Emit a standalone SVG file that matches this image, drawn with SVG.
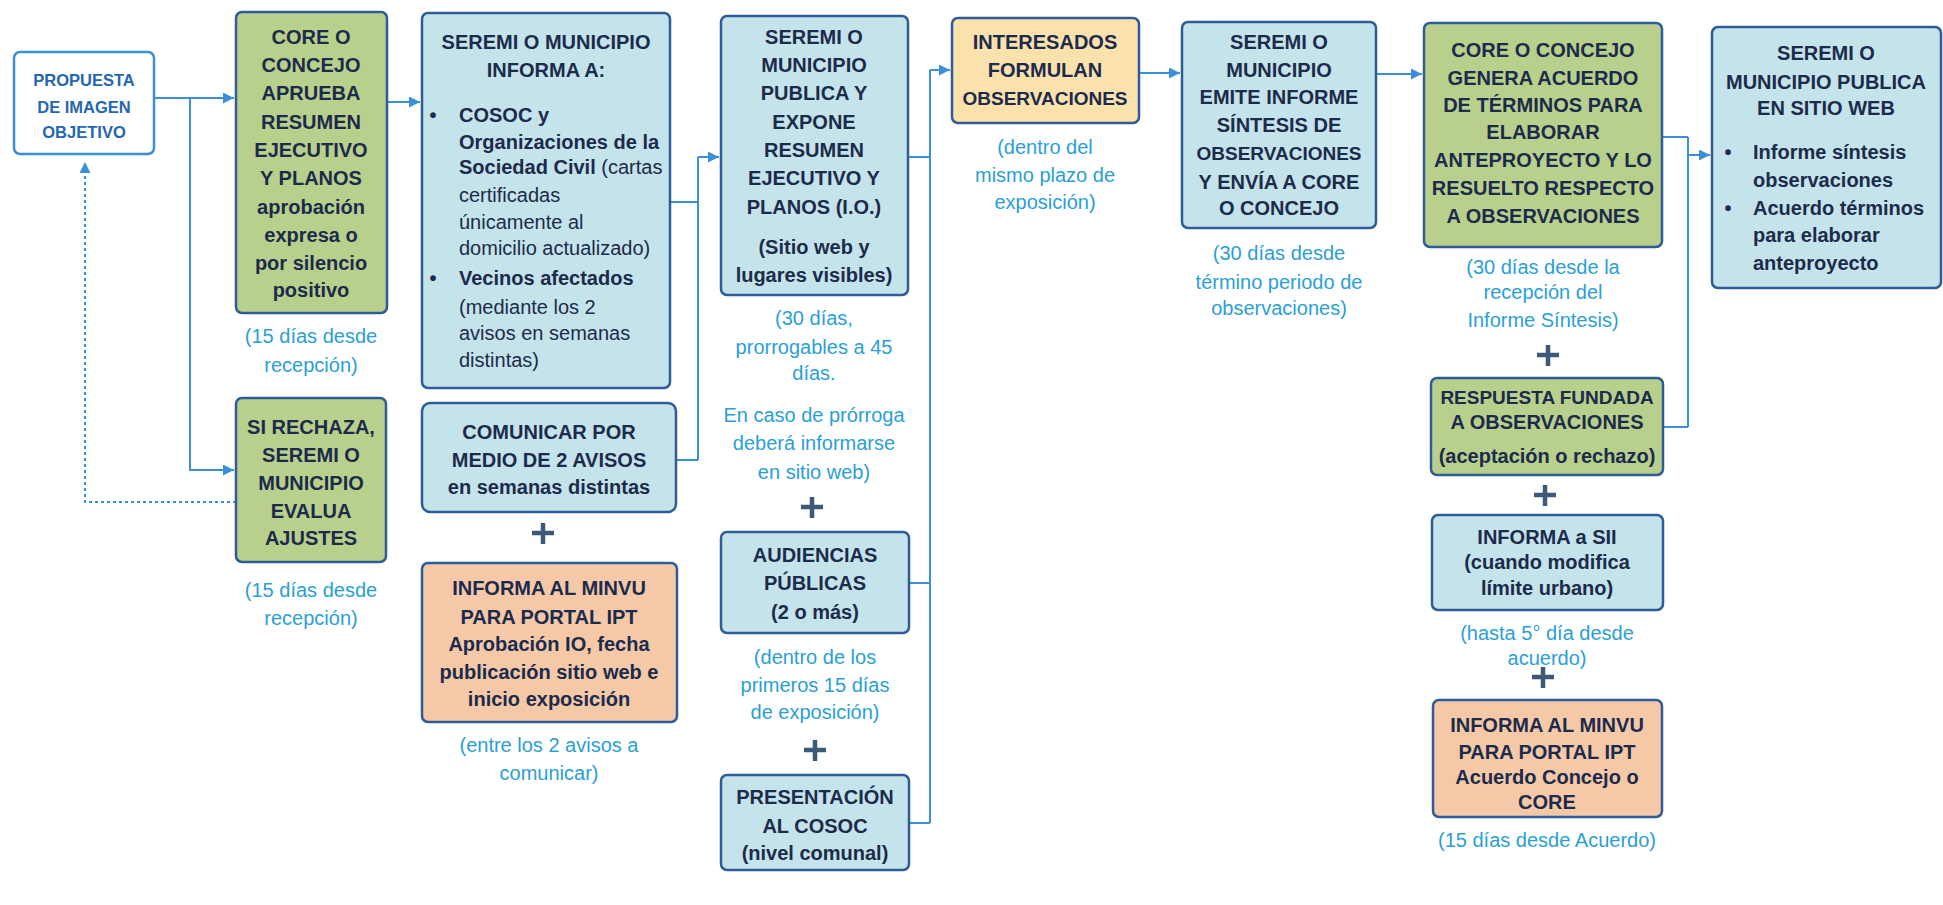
<svg xmlns="http://www.w3.org/2000/svg" width="1943" height="905" viewBox="0 0 1943 905">
<defs>
<style>
.t{font-family:"Liberation Sans",Arial,sans-serif;font-weight:bold;font-size:20px;fill:#1c2b4b;text-anchor:middle}
.l{text-anchor:start}
.rg{font-weight:normal}
.s{font-size:19px}
.p1{font-family:"Liberation Sans",Arial,sans-serif;font-weight:bold;font-size:16.5px;fill:#2466b0;text-anchor:middle}
.lb{font-family:"Liberation Sans",Arial,sans-serif;font-size:20px;fill:#2a9fd6;text-anchor:middle}
.bx{stroke:#2d5c98;stroke-width:2.5}
.cb{fill:#c4e3ea}
.cg{fill:#b8d08c}
.cp{fill:#f5c9a8}
.cy{fill:#fbe2ad}
.cn{stroke:#3a8fd8;stroke-width:2;fill:none}
.plus{stroke:#3d5878;stroke-width:4.5;fill:none}
</style>
<marker id="ah" viewBox="0 0 10 10" refX="10" refY="5" markerWidth="11" markerHeight="11" markerUnits="userSpaceOnUse" orient="auto"><path d="M0,0 L10,5 L0,10 z" fill="#3a8fd8"/></marker>
</defs>
<rect width="1943" height="905" fill="#ffffff"/>

<g id="connectors">
<path class="cn" d="M154,98 H234" marker-end="url(#ah)"/>
<path class="cn" d="M190,98 V470 H234" marker-end="url(#ah)"/>
<path class="cn" d="M236,502 H85 V162" stroke-dasharray="3,3" marker-end="url(#ah)"/>
<path class="cn" d="M387,102 H420" marker-end="url(#ah)"/>
<path class="cn" d="M670,202 H698 M676,460 H698 M698,157 V460"/>
<path class="cn" d="M698,157 H719" marker-end="url(#ah)"/>
<path class="cn" d="M908,157 H930 M909,583 H930 M909,823 H930 M930,70 V823"/>
<path class="cn" d="M930,70 H950" marker-end="url(#ah)"/>
<path class="cn" d="M1139,73 H1180" marker-end="url(#ah)"/>
<path class="cn" d="M1376,74 H1422" marker-end="url(#ah)"/>
<path class="cn" d="M1662,137 H1688 M1663,427 H1688 M1688,137 V427"/>
<path class="cn" d="M1688,155 H1710" marker-end="url(#ah)"/>
</g>

<g id="n-propuesta">
<rect x="14" y="52" width="140" height="102" rx="6" fill="#ffffff" stroke="#3a8fd8" stroke-width="2.5"/>
<text class="p1" x="84" y="86">PROPUESTA</text>
<text class="p1" x="84" y="113">DE IMAGEN</text>
<text class="p1" x="84" y="138">OBJETIVO</text>
</g>

<g id="n-core-aprueba">
<rect class="bx cg" x="236" y="12" width="151" height="301" rx="6"/>
<text class="t" x="311" y="44">CORE O</text>
<text class="t" x="311" y="72">CONCEJO</text>
<text class="t" x="311" y="100">APRUEBA</text>
<text class="t" x="311" y="129">RESUMEN</text>
<text class="t" x="311" y="157">EJECUTIVO</text>
<text class="t" x="311" y="185">Y PLANOS</text>
<text class="t" x="311" y="214">aprobación</text>
<text class="t" x="311" y="242">expresa o</text>
<text class="t" x="311" y="270">por silencio</text>
<text class="t" x="311" y="297">positivo</text>
<text class="lb" x="311" y="343">(15 días desde</text>
<text class="lb" x="311" y="372">recepción)</text>
</g>

<g id="n-si-rechaza">
<rect class="bx cg" x="236" y="398" width="150" height="164" rx="6"/>
<text class="t" x="311" y="434">SI RECHAZA,</text>
<text class="t" x="311" y="462">SEREMI O</text>
<text class="t" x="311" y="490">MUNICIPIO</text>
<text class="t" x="311" y="518">EVALUA</text>
<text class="t" x="311" y="545">AJUSTES</text>
<text class="lb" x="311" y="597">(15 días desde</text>
<text class="lb" x="311" y="625">recepción)</text>
</g>

<g id="n-seremi-informa">
<rect class="bx cb" x="422" y="13" width="248" height="375" rx="6"/>
<text class="t" x="546" y="49">SEREMI O MUNICIPIO</text>
<text class="t" x="546" y="77">INFORMA A:</text>
<text class="t" x="433" y="122">•</text>
<text class="t l" x="459" y="122">COSOC y</text>
<text class="t l" x="459" y="149">Organizaciones de la</text>
<text class="t l" x="459" y="174">Sociedad Civil <tspan class="rg"> (cartas</tspan></text>
<text class="t l rg" x="459" y="202">certificadas</text>
<text class="t l rg" x="459" y="229">únicamente al</text>
<text class="t l rg" x="459" y="255">domicilio actualizado)</text>
<text class="t" x="433" y="285">•</text>
<text class="t l" x="459" y="285">Vecinos afectados</text>
<text class="t l rg" x="459" y="314">(mediante los 2</text>
<text class="t l rg" x="459" y="340">avisos en semanas</text>
<text class="t l rg" x="459" y="367">distintas)</text>
</g>

<g id="n-comunicar">
<rect class="bx cb" x="422" y="403" width="254" height="109" rx="8"/>
<text class="t" x="549" y="439">COMUNICAR POR</text>
<text class="t" x="549" y="467">MEDIO DE 2 AVISOS</text>
<text class="t" x="549" y="494">en semanas distintas</text>
</g>

<g id="plus-1"><path class="plus" d="M532,533 H554 M543,523 V544"/></g>

<g id="n-minvu-1">
<rect class="bx cp" x="422" y="563" width="255" height="159" rx="6"/>
<text class="t" x="549" y="595">INFORMA AL MINVU</text>
<text class="t" x="549" y="624">PARA PORTAL IPT</text>
<text class="t" x="549" y="651">Aprobación IO, fecha</text>
<text class="t" x="549" y="679">publicación sitio web e</text>
<text class="t" x="549" y="706">inicio exposición</text>
<text class="lb" x="549" y="752">(entre los 2 avisos a</text>
<text class="lb" x="549" y="780">comunicar)</text>
</g>

<g id="n-seremi-publica">
<rect class="bx cb" x="721" y="16" width="187" height="279" rx="6"/>
<text class="t" x="814" y="44">SEREMI O</text>
<text class="t" x="814" y="72">MUNICIPIO</text>
<text class="t" x="814" y="100">PUBLICA Y</text>
<text class="t" x="814" y="129">EXPONE</text>
<text class="t" x="814" y="157">RESUMEN</text>
<text class="t" x="814" y="185">EJECUTIVO Y</text>
<text class="t" x="814" y="214">PLANOS  (I.O.)</text>
<text class="t" x="814" y="254">(Sitio web y</text>
<text class="t" x="814" y="282">lugares visibles)</text>
<text class="lb" x="814" y="325">(30 días,</text>
<text class="lb" x="814" y="354">prorrogables a 45</text>
<text class="lb" x="814" y="380">días.</text>
<text class="lb" x="814" y="422">En caso de prórroga</text>
<text class="lb" x="814" y="450">deberá informarse</text>
<text class="lb" x="814" y="479">en sitio web)</text>
</g>

<g id="plus-2"><path class="plus" d="M801,507 H823 M812,497 V518"/></g>

<g id="n-audiencias">
<rect class="bx cb" x="721" y="532" width="188" height="101" rx="6"/>
<text class="t" x="815" y="562">AUDIENCIAS</text>
<text class="t" x="815" y="590">PÚBLICAS</text>
<text class="t" x="815" y="619">(2 o más)</text>
<text class="lb" x="815" y="664">(dentro de los</text>
<text class="lb" x="815" y="692">primeros 15 días</text>
<text class="lb" x="815" y="719">de exposición)</text>
</g>

<g id="plus-3"><path class="plus" d="M804,750 H826 M815,740 V761"/></g>

<g id="n-presentacion">
<rect class="bx cb" x="721" y="775" width="188" height="95" rx="6"/>
<text class="t" x="815" y="804">PRESENTACIÓN</text>
<text class="t" x="815" y="833">AL COSOC</text>
<text class="t" x="815" y="860">(nivel comunal)</text>
</g>

<g id="n-interesados">
<rect class="bx cy" x="952" y="18" width="187" height="105" rx="6"/>
<text class="t" x="1045" y="49">INTERESADOS</text>
<text class="t" x="1045" y="77">FORMULAN</text>
<text class="t s" x="1045" y="105">OBSERVACIONES</text>
<text class="lb" x="1045" y="154">(dentro del</text>
<text class="lb" x="1045" y="182">mismo plazo de</text>
<text class="lb" x="1045" y="209">exposición)</text>
</g>

<g id="n-seremi-emite">
<rect class="bx cb" x="1182" y="22" width="194" height="206" rx="6"/>
<text class="t" x="1279" y="49">SEREMI O</text>
<text class="t" x="1279" y="77">MUNICIPIO</text>
<text class="t" x="1279" y="104">EMITE INFORME</text>
<text class="t" x="1279" y="132">SÍNTESIS DE</text>
<text class="t s" x="1279" y="160">OBSERVACIONES</text>
<text class="t" x="1279" y="189">Y ENVÍA A CORE</text>
<text class="t" x="1279" y="215">O CONCEJO</text>
<text class="lb" x="1279" y="260">(30 días desde</text>
<text class="lb" x="1279" y="289">término periodo de</text>
<text class="lb" x="1279" y="315">observaciones)</text>
</g>

<g id="n-core-genera">
<rect class="bx cg" x="1424" y="23" width="238" height="224" rx="6"/>
<text class="t" x="1543" y="57">CORE O CONCEJO</text>
<text class="t" x="1543" y="85">GENERA ACUERDO</text>
<text class="t" x="1543" y="112">DE TÉRMINOS PARA</text>
<text class="t" x="1543" y="139">ELABORAR</text>
<text class="t" x="1543" y="167">ANTEPROYECTO Y LO</text>
<text class="t" x="1543" y="195">RESUELTO RESPECTO</text>
<text class="t" x="1543" y="223">A OBSERVACIONES</text>
<text class="lb" x="1543" y="274">(30 días desde la</text>
<text class="lb" x="1543" y="299">recepción del</text>
<text class="lb" x="1543" y="327">Informe Síntesis)</text>
</g>

<g id="plus-4"><path class="plus" d="M1537,355 H1559 M1548,345 V366"/></g>

<g id="n-respuesta">
<rect class="bx cg" x="1431" y="378" width="232" height="97" rx="6"/>
<text class="t s" x="1547" y="404">RESPUESTA FUNDADA</text>
<text class="t" x="1547" y="429">A OBSERVACIONES</text>
<text class="t" x="1547" y="463">(aceptación o rechazo)</text>
</g>

<g id="plus-5"><path class="plus" d="M1534,495 H1556 M1545,485 V506"/></g>

<g id="n-informa-sii">
<rect class="bx cb" x="1432" y="515" width="231" height="95" rx="6"/>
<text class="t" x="1547" y="544">INFORMA a SII</text>
<text class="t" x="1547" y="569">(cuando modifica</text>
<text class="t" x="1547" y="595">límite urbano)</text>
<text class="lb" x="1547" y="640">(hasta 5° día desde</text>
<text class="lb" x="1547" y="665">acuerdo)</text>
</g>

<g id="plus-6"><path class="plus" d="M1532,677 H1554 M1543,667 V688"/></g>

<g id="n-minvu-2">
<rect class="bx cp" x="1433" y="700" width="229" height="117" rx="6"/>
<text class="t" x="1547" y="732">INFORMA AL MINVU</text>
<text class="t" x="1547" y="759">PARA PORTAL IPT</text>
<text class="t" x="1547" y="784">Acuerdo Concejo o</text>
<text class="t" x="1547" y="809">CORE</text>
<text class="lb" x="1547" y="847">(15 días desde Acuerdo)</text>
</g>

<g id="n-seremi-web">
<rect class="bx cb" x="1712" y="27" width="229" height="261" rx="6"/>
<text class="t" x="1826" y="60">SEREMI O</text>
<text class="t" x="1826" y="89">MUNICIPIO PUBLICA</text>
<text class="t" x="1826" y="115">EN SITIO WEB</text>
<text class="t" x="1728" y="159">•</text>
<text class="t l" x="1753" y="159">Informe síntesis</text>
<text class="t l" x="1753" y="187">observaciones</text>
<text class="t" x="1728" y="215">•</text>
<text class="t l" x="1753" y="215">Acuerdo términos</text>
<text class="t l" x="1753" y="242">para elaborar</text>
<text class="t l" x="1753" y="270">anteproyecto</text>
</g>
</svg>
